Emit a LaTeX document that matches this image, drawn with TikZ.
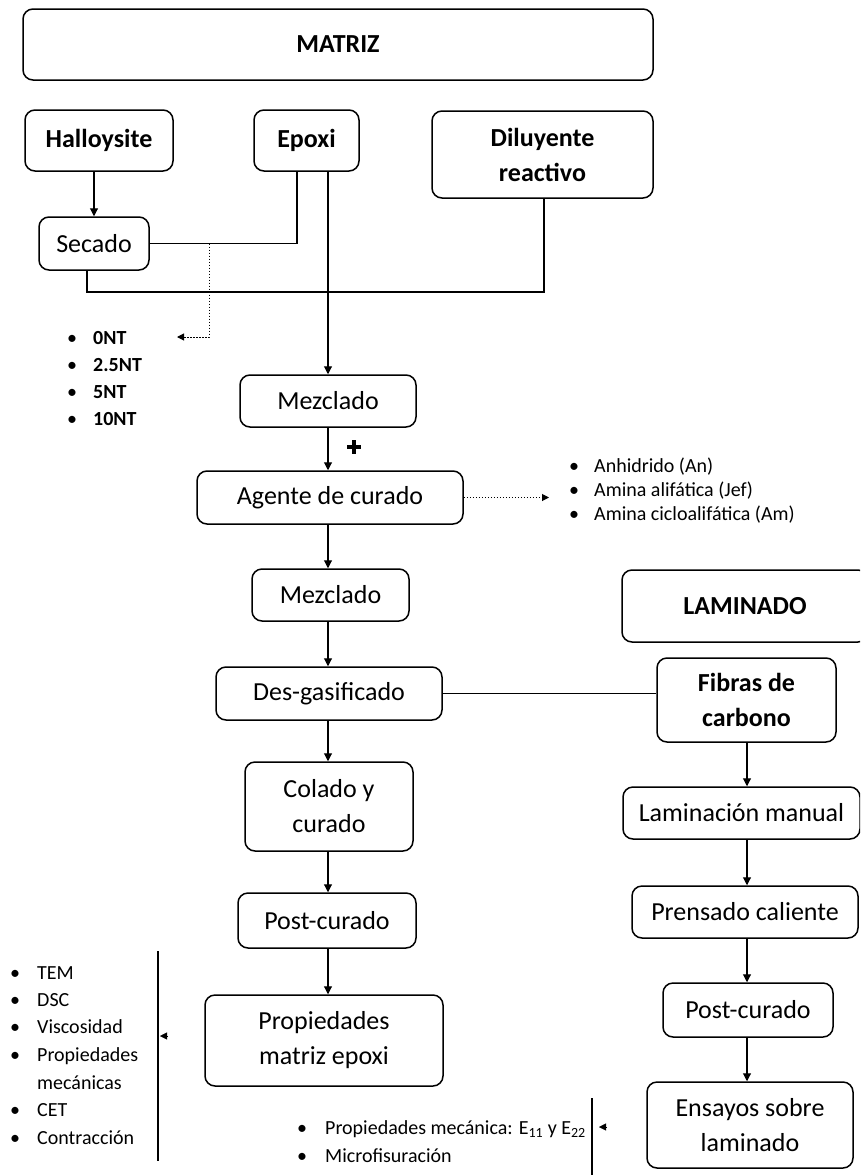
\documentclass[tikz,border=0pt]{standalone}
\usepackage{fontspec}
\setmainfont{Carlito}
\usetikzlibrary{arrows.meta,calc}
\begin{document}
\begin{tikzpicture}[x=1pt,y=-1pt,
  box/.style={draw,line width=1.5pt,rounded corners=10pt,inner sep=0pt,align=center,font=\fontsize{26}{35}\selectfont},
  bbox/.style={box,font=\fontsize{26}{35}\selectfont\bfseries},
  conn/.style={line width=1.1pt},
  arr/.style={conn,-{Triangle[length=8pt,width=8pt]}},
  dotl/.style={line width=1pt,dash pattern=on 1.5pt off 1.5pt},
  tip/.style={-{Triangle[length=7pt,width=7pt]}},
  li/.style={anchor=base west,inner sep=0pt,font=\fontsize{20}{24}\selectfont},
  bul/.style={anchor=base,inner sep=0pt,font=\fontsize{20}{24}\selectfont},
  libf/.style={li,font=\fontsize{20}{24}\selectfont\bfseries},
]
\useasboundingbox (0,0) rectangle (860,1175);
\clip (0,0) rectangle (860,1175);

% boxes
\node[bbox,minimum width=630pt,minimum height=71pt] (matriz) at (338,44.5) {MATRIZ};
\node[bbox,minimum width=148pt,minimum height=61pt] (hal) at (99,140.5) {Halloysite};
\node[bbox,minimum width=105pt,minimum height=61pt] (epo) at (306.5,140.5) {Epoxi};
\node[bbox,minimum width=221pt,minimum height=87pt] (dil) at (542.5,154.5) {Diluyente\\reactivo};
\node[box,minimum width=110pt,minimum height=53pt] (sec) at (94,243.5) {Secado};
\node[box,minimum width=176pt,minimum height=52pt] (mez1) at (328,401) {Mezclado};
\node[box,minimum width=266pt,minimum height=53pt] (age) at (330,497.5) {Agente de curado};
\node[box,minimum width=157pt,minimum height=52pt] (mez2) at (330.5,595) {Mezclado};
\node[bbox,minimum width=246pt,minimum height=72pt] (lamh) at (745,606) {LAMINADO};
\node[box,minimum width=226pt,minimum height=53pt] (des) at (329,693.5) {Des-gasificado};
\node[bbox,minimum width=179pt,minimum height=84pt] (fib) at (746.5,700) {Fibras de\\carbono};
\node[box,minimum width=168pt,minimum height=89pt] (col) at (329,806.5) {Colado y\\curado};
\node[box,minimum width=178pt,minimum height=55pt] (pos) at (327,920.5) {Post-curado};
\node[box,minimum width=238pt,minimum height=91pt] (pro) at (324,1040.5) {Propiedades\\matriz epoxi};
\node[box,minimum width=237pt,minimum height=52pt] (lmn) at (741.5,813) {Laminación manual};
\node[box,minimum width=226pt,minimum height=52pt] (pre) at (745,912) {Prensado caliente};
\node[box,minimum width=170pt,minimum height=54pt] (po2) at (748,1010) {Post-curado};
\node[box,minimum width=206pt,minimum height=86pt] (ens) at (750,1125) {Ensayos sobre\\laminado};

% matrix column connectors
\draw[arr] (sec.north |- hal.south) -- (sec.north);
\draw[conn] (sec.east) -| ([xshift=-9.5pt]epo.south);
\draw[arr] (epo.south -| mez1.north) -- (mez1.north);
\coordinate (jl) at (87,292);
\coordinate (jr) at (544,292);
\draw[conn] (jl |- sec.south) -- (jl) -- (jr) -- (jr |- dil.south);
\coordinate (d1) at (209,243.5);
\coordinate (d2) at (209,337);
\coordinate (dt) at (177,337);
\draw[dotl,tip] (d1) -- (d2) -- (dt);
\draw[line width=4pt] (347,447) -- (361,447) (354,440) -- (354,454);
\draw[arr] (mez1.south) -- (mez1.south |- age.north);
\draw[arr] (age.south -| mez1.south) -- (mez2.north -| mez1.south);
\coordinate (at) at (549,497.5);
\draw[dotl,tip] (age.east) -- (at);
\draw[arr] (mez2.south -| mez1.south) -- (des.north -| mez1.south);
\draw[conn] (des.east) -- (des.east -| fib.west);
\draw[arr] (des.south -| mez1.south) -- (col.north -| mez1.south);
\draw[arr] (col.south -| mez1.south) -- (pos.north -| mez1.south);
\draw[arr] (pos.south -| mez1.south) -- (pro.north -| mez1.south);

% laminate column connectors
\coordinate (rx) at (747,0);
\draw[arr] (fib.south -| rx) -- (lmn.north -| rx);
\draw[arr] (lmn.south -| rx) -- (pre.north -| rx);
\draw[arr] (pre.south -| rx) -- (po2.north -| rx);
\draw[arr] (po2.south -| rx) -- (ens.north -| rx);

% lists
\foreach \t [count=\i] in {0NT,2.5NT,5NT,10NT}{
  \node[bul] (nb\i) at (72,{344+27.3*(\i-1)}) {•};
  \node[libf] (nt\i) at (93,{344+27.3*(\i-1)}) {\t};
}
\foreach \t [count=\i] in {Anhidrido (An),Amina alifática (Jef),Amina cicloalifática (Am)}{
  \node[bul] (ab\i) at (574,{472+24*(\i-1)}) {•};
  \node[li] (at\i) at (594,{472+24*(\i-1)}) {\t};
}
\node[bul] (tb1) at (15,979) {•};   \node[li] (tt1) at (37,979) {TEM};
\node[bul] (tb2) at (15,1006) {•};  \node[li] (tt2) at (37,1006) {DSC};
\node[bul] (tb3) at (15,1033) {•};  \node[li] (tt3) at (37,1033) {Viscosidad};
\node[bul] (tb4) at (15,1061) {•};  \node[li] (tt4) at (37,1061) {Propiedades};
\node[li] (tt5) at (37,1089) {mecánicas};
\node[bul] (tb6) at (15,1116) {•};  \node[li] (tt6) at (37,1116) {CET};
\node[bul] (tb7) at (15,1144) {•};  \node[li] (tt7) at (37,1144) {Contracción};
\coordinate (v1a) at (158,951);
\coordinate (v1b) at (158,1161);
\draw[conn] (v1a) -- (v1b);
\coordinate (h1a) at (168,1036);
\coordinate (h1b) at (160,1036);
\draw[tip] (h1a) -- (h1b);

\node[bul] (bb1) at (302,1134) {•};
\node[li] (bt1) at (325,1134) {Propiedades mecánica: E\textsubscript{11} y E\textsubscript{22}};
\node[bul] (bb2) at (302,1162) {•};
\node[li] (bt2) at (325,1162) {Microfisuración};
\coordinate (v2a) at (592,1098);
\coordinate (v2b) at (592,1175);
\draw[conn] (v2a) -- (v2b);
\coordinate (h2a) at (607,1127);
\coordinate (h2b) at (599,1127);
\draw[tip] (h2a) -- (h2b);
\end{tikzpicture}
\end{document}
